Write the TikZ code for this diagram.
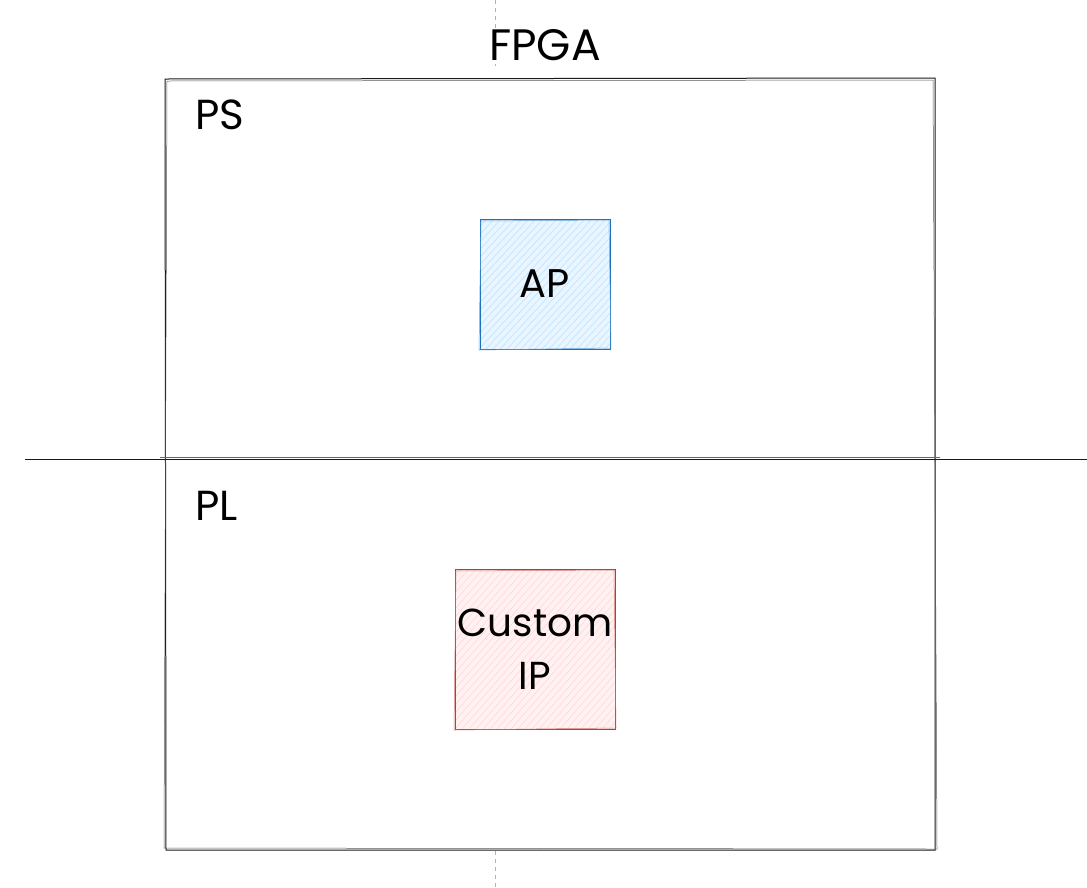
\documentclass[tikz,border=0pt]{standalone}
\usepackage{fontspec}
\setmainfont{Poppins}
\begin{document}
\begin{tikzpicture}[x=1pt,y=-1pt,
  lbl/.style={inner sep=0pt, font=\fontsize{42}{50}\selectfont, text=black},
  sketch/.style={line width=1pt},
  guide/.style={draw=black!30, line width=0.6pt, dash pattern=on 4pt off 4pt}]
\useasboundingbox (0,0) rectangle (1087,887);
\fill[white] (0,0) rectangle (1087,887);
\definecolor{apblue}{HTML}{1971C2}
\definecolor{apfill}{HTML}{A5D8FF}
\definecolor{ipred}{HTML}{C0392B}
\definecolor{ipfill}{HTML}{FFC9C9}
% guide line
\coordinate (gt) at (495,0);
\coordinate (gb) at (495,887);
\draw[guide] (gt) -- (495,66);
\draw[guide] (495,851) -- (gb);
% outer box
\node[draw=none, minimum width=770pt, minimum height=771pt, inner sep=0pt] (fpga) at (550,464.5) {};
\draw[sketch, black!90] (165,79) -- (935,78) -- (935,850) -- (166,850) -- cycle;
\draw[line width=0.5pt, black!65] (167,81) -- (933,80) -- (937,849) -- (164,848) -- cycle;
% divider
\coordinate (dl) at (25,459);
\coordinate (dr) at (1087,459);
\draw[sketch, black!90] (dl) -- (dr);
\draw[line width=0.5pt, black!60] (160,457.5) -- (940,457.5);
% labels
\node[lbl, font=\fontsize{44}{50}\selectfont] (ftitle) at (545,45) {FPGA};
\node[lbl, anchor=west] (ps) at (195,115) {PS};
\node[lbl, anchor=west] (pl) at (195,506) {PL};
% AP box
\begin{scope}
\clip (480,219) rectangle (610,349);
\fill[apfill!25] (480,219) rectangle (610,349);
\foreach \i in {0,7,...,300} {\draw[apfill!80, line width=0.5pt] (480+\i-120,349) -- (480+\i,219);}
\end{scope}
\draw[apblue, line width=0.9pt] (480,219) -- (610,219) -- (610,349) -- (480,349) -- cycle;
\draw[apblue!70, line width=0.5pt] (481,221) -- (609,220) -- (611,348) -- (479,350) -- cycle;
\node[lbl, font=\fontsize{40}{50}\selectfont, minimum width=130pt, minimum height=130pt] (ap) at (545,284) {AP};
% Custom IP box
\begin{scope}
\clip (455,569) rectangle (615,729);
\fill[ipfill!25] (455,569) rectangle (615,729);
\foreach \i in {0,7,...,340} {\draw[ipfill!80, line width=0.5pt] (455+\i-140,729) -- (455+\i,569);}
\end{scope}
\draw[ipred, line width=0.9pt] (455,569) -- (615,569) -- (615,729) -- (455,729) -- cycle;
\draw[ipred!70, line width=0.5pt] (456,571) -- (614,570) -- (616,728) -- (454,730) -- cycle;
\node[lbl, font=\fontsize{39}{53}\selectfont, minimum width=160pt, minimum height=160pt, align=center] (ip) at (535,649) {Custom\\IP};
\end{tikzpicture}
\end{document}
